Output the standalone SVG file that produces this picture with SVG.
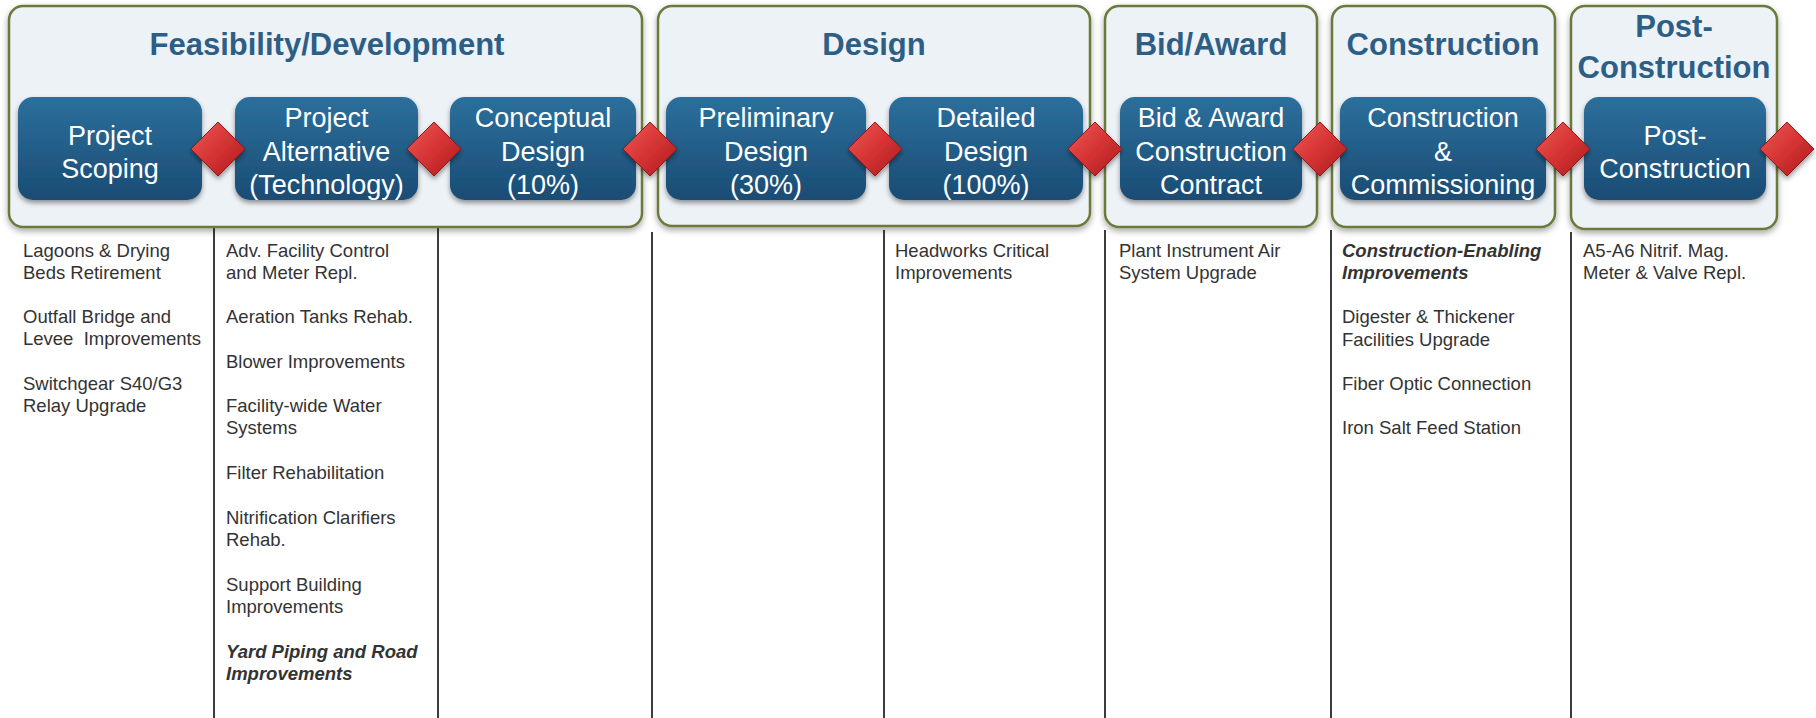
<svg xmlns="http://www.w3.org/2000/svg" width="1816" height="718" viewBox="0 0 1816 718">
<defs>
<linearGradient id="nodeGrad" x1="0" y1="0" x2="0" y2="1">
<stop offset="0" stop-color="#2C6F9C"/>
<stop offset="1" stop-color="#1A4C74"/>
</linearGradient>
<linearGradient id="diaGrad" x1="0" y1="0" x2="1" y2="1">
<stop offset="0" stop-color="#EC5A56"/>
<stop offset="0.5" stop-color="#D63333"/>
<stop offset="1" stop-color="#A91C20"/>
</linearGradient>
<filter id="shadow" x="-10%" y="-10%" width="120%" height="130%">
<feDropShadow dx="0" dy="3" stdDeviation="3" flood-color="#000" flood-opacity="0.35"/>
</filter>
<filter id="shadowSm" x="-20%" y="-20%" width="140%" height="150%">
<feDropShadow dx="0" dy="3" stdDeviation="2.5" flood-color="#000" flood-opacity="0.4"/>
</filter>
</defs>
<style>
.phase{fill:#EDF2F6;stroke:#6B7A3A;stroke-width:2.5;filter:url(#shadow)}
.ptitle{font-family:"Liberation Sans",Arial,sans-serif;font-weight:bold;font-size:31px;fill:#2D5E86;text-anchor:middle}
.node{fill:url(#nodeGrad);filter:url(#shadowSm)}
.ntext{font-family:"Liberation Sans",Arial,sans-serif;font-size:27px;fill:#FFFFFF;text-anchor:middle}
.dia{fill:url(#diaGrad);stroke:#9A181C;stroke-width:1;filter:url(#shadowSm)}
.sep{stroke:#3C3C3C;stroke-width:2}
.item{font-family:"Liberation Sans",Arial,sans-serif;font-size:18.5px;fill:#333333}
.bi{font-weight:bold;font-style:italic}
</style>
<rect width="1816" height="718" fill="#FFFFFF"/>

<g id="separators">
<line class="sep" x1="214" y1="228" x2="214" y2="718"/>
<line class="sep" x1="438" y1="228" x2="438" y2="718"/>
<line class="sep" x1="652" y1="232" x2="652" y2="718"/>
<line class="sep" x1="884" y1="230" x2="884" y2="718"/>
<line class="sep" x1="1105" y1="230" x2="1105" y2="718"/>
<line class="sep" x1="1331" y1="230" x2="1331" y2="718"/>
<line class="sep" x1="1571" y1="232" x2="1571" y2="718"/>
</g>

<g id="phase-feasibility">
<rect class="phase" x="9" y="6" width="633" height="221" rx="14"/>
<text class="ptitle" x="327" y="55">Feasibility/Development</text>
</g>
<g id="phase-design">
<rect class="phase" x="658" y="6" width="432" height="220" rx="14"/>
<text class="ptitle" x="874" y="55">Design</text>
</g>
<g id="phase-bid">
<rect class="phase" x="1105" y="6" width="212" height="221" rx="14"/>
<text class="ptitle" x="1211" y="55">Bid/Award</text>
</g>
<g id="phase-construction">
<rect class="phase" x="1332" y="6" width="223" height="221" rx="14"/>
<text class="ptitle" x="1443" y="55">Construction</text>
</g>
<g id="phase-post">
<rect class="phase" x="1571" y="6" width="206" height="223" rx="14"/>
<text class="ptitle" x="1674" y="37">Post-</text>
<text class="ptitle" x="1674" y="78">Construction</text>
</g>

<g id="node-scoping">
<rect class="node" x="18" y="97" width="184" height="103" rx="15"/>
<text class="ntext" x="110" y="145">Project</text>
<text class="ntext" x="110" y="178">Scoping</text>
</g>
<g id="node-alternative">
<rect class="node" x="235" y="97" width="183" height="103" rx="15"/>
<text class="ntext" x="326.5" y="127">Project</text>
<text class="ntext" x="326.5" y="160.5">Alternative</text>
<text class="ntext" x="326.5" y="194">(Technology)</text>
</g>
<g id="node-conceptual">
<rect class="node" x="450" y="97" width="186" height="103" rx="15"/>
<text class="ntext" x="543" y="127">Conceptual</text>
<text class="ntext" x="543" y="160.5">Design</text>
<text class="ntext" x="543" y="194">(10%)</text>
</g>
<g id="node-preliminary">
<rect class="node" x="666" y="97" width="200" height="103" rx="15"/>
<text class="ntext" x="766" y="127">Preliminary</text>
<text class="ntext" x="766" y="160.5">Design</text>
<text class="ntext" x="766" y="194">(30%)</text>
</g>
<g id="node-detailed">
<rect class="node" x="889" y="97" width="194" height="103" rx="15"/>
<text class="ntext" x="986" y="127">Detailed</text>
<text class="ntext" x="986" y="160.5">Design</text>
<text class="ntext" x="986" y="194">(100%)</text>
</g>
<g id="node-bid">
<rect class="node" x="1120" y="97" width="182" height="103" rx="15"/>
<text class="ntext" x="1211" y="127">Bid &amp; Award</text>
<text class="ntext" x="1211" y="160.5">Construction</text>
<text class="ntext" x="1211" y="194">Contract</text>
</g>
<g id="node-construction">
<rect class="node" x="1340" y="97" width="206" height="103" rx="15"/>
<text class="ntext" x="1443" y="127">Construction</text>
<text class="ntext" x="1443" y="160.5">&amp;</text>
<text class="ntext" x="1443" y="194">Commissioning</text>
</g>
<g id="node-post">
<rect class="node" x="1584" y="97" width="182" height="103" rx="15"/>
<text class="ntext" x="1675" y="145">Post-</text>
<text class="ntext" x="1675" y="178">Construction</text>
</g>

<g id="connectors">
<polygon class="dia" points="218,122 245,149 218,176 191,149"/>
<polygon class="dia" points="434,122 461,149 434,176 407,149"/>
<polygon class="dia" points="650,122 677,149 650,176 623,149"/>
<polygon class="dia" points="875,122 902,149 875,176 848,149"/>
<polygon class="dia" points="1095,122 1122,149 1095,176 1068,149"/>
<polygon class="dia" points="1320,122 1347,149 1320,176 1293,149"/>
<polygon class="dia" points="1563,122 1590,149 1563,176 1536,149"/>
<polygon class="dia" points="1787,122 1814,149 1787,176 1760,149"/>
</g>

<g id="items-feasibility-1">
<text class="item" x="23" y="257">Lagoons &amp; Drying</text>
<text class="item" x="23" y="279">Beds Retirement</text>
<text class="item" x="23" y="323">Outfall Bridge and</text>
<text class="item" x="23" y="345" xml:space="preserve">Levee  Improvements</text>
<text class="item" x="23" y="390">Switchgear S40/G3</text>
<text class="item" x="23" y="412">Relay Upgrade</text>
</g>
<g id="items-feasibility-2">
<text class="item" x="226" y="257">Adv. Facility Control</text>
<text class="item" x="226" y="279">and Meter Repl.</text>
<text class="item" x="226" y="323">Aeration Tanks Rehab.</text>
<text class="item" x="226" y="368">Blower Improvements</text>
<text class="item" x="226" y="412">Facility-wide Water</text>
<text class="item" x="226" y="434">Systems</text>
<text class="item" x="226" y="479">Filter Rehabilitation</text>
<text class="item" x="226" y="524">Nitrification Clarifiers</text>
<text class="item" x="226" y="546">Rehab.</text>
<text class="item" x="226" y="591">Support Building</text>
<text class="item" x="226" y="613">Improvements</text>
<text class="item bi" x="226" y="658">Yard Piping and Road</text>
<text class="item bi" x="226" y="680">Improvements</text>
</g>
<g id="items-detailed">
<text class="item" x="895" y="257">Headworks Critical</text>
<text class="item" x="895" y="279">Improvements</text>
</g>
<g id="items-bid">
<text class="item" x="1119" y="257">Plant Instrument Air</text>
<text class="item" x="1119" y="279">System Upgrade</text>
</g>
<g id="items-construction">
<text class="item bi" x="1342" y="257">Construction-Enabling</text>
<text class="item bi" x="1342" y="279">Improvements</text>
<text class="item" x="1342" y="323">Digester &amp; Thickener</text>
<text class="item" x="1342" y="346">Facilities Upgrade</text>
<text class="item" x="1342" y="390">Fiber Optic Connection</text>
<text class="item" x="1342" y="434">Iron Salt Feed Station</text>
</g>
<g id="items-post">
<text class="item" x="1583" y="257">A5-A6 Nitrif. Mag.</text>
<text class="item" x="1583" y="279">Meter &amp; Valve Repl.</text>
</g>
</svg>
